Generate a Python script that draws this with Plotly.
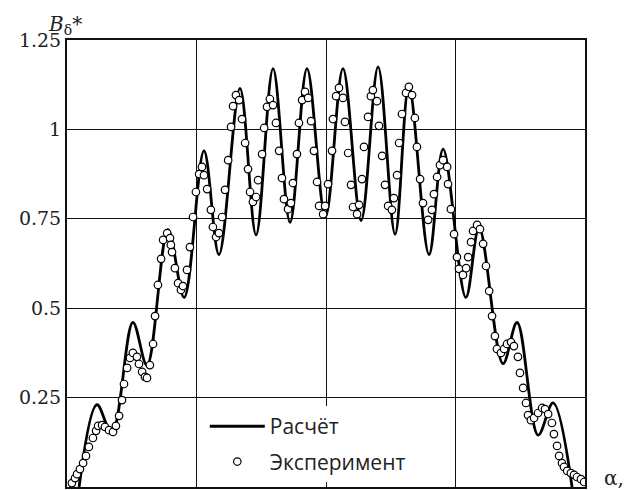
import plotly.graph_objects as go

# Calculated air-gap flux density (key points of the computed curve), angle in degrees
calc_alpha = [4.2, 10.4, 15.6, 22.9, 27.8, 35.1, 40.7, 47.6, 52.8, 60.1, 65.7, 71.6, 77.5,
              83.4, 89.8, 95.9, 102.2, 108.1, 114.0, 118.8, 125.8, 130.7, 138.6, 143.2,
              151.5, 156.4, 163.7, 168.9, 175.5]
calc_b = [0.0, 0.23, 0.15, 0.46, 0.34, 0.72, 0.53, 0.94, 0.65, 1.115, 0.705, 1.17, 0.74,
          1.17, 0.755, 1.17, 0.745, 1.175, 0.707, 1.12, 0.65, 0.945, 0.53, 0.725,
          0.345, 0.46, 0.145, 0.235, 0.0]

# Measured values
exp_alpha = [1.7, 2.8, 3.5, 4.5, 5.6, 6.6, 7.6, 9.0, 10.1, 10.8, 12.2, 13.2, 14.6, 16.0,
             17.0, 18.1, 19.1, 19.8, 20.9, 21.9, 22.9, 24.3, 25.0, 26.1, 27.1, 27.8, 28.8,
             29.9, 30.6, 31.6, 32.7, 33.4, 34.8, 35.8, 36.1, 36.5, 37.5, 38.6, 39.6, 40.3,
             41.7, 42.7, 43.8, 44.8, 45.9, 46.9, 47.6, 48.7, 50.0, 50.7, 51.8, 52.8, 53.9,
             54.9, 56.0, 57.0, 57.7, 58.7, 59.8, 60.8, 61.9, 62.9, 63.6, 64.6, 65.7, 66.4,
             67.8, 68.5, 69.5, 70.5, 71.6, 72.6, 73.7, 74.7, 75.4, 76.8, 77.8, 78.5, 79.9,
             80.6, 81.7, 82.7, 83.8, 84.8, 85.8, 86.9, 87.6, 89.0, 89.7, 90.7, 92.1, 92.4,
             93.5, 94.5, 95.9, 96.6, 97.7, 98.7, 99.4, 100.8, 101.5, 102.5, 103.2, 104.6,
             105.6, 106.3, 107.7, 108.4, 109.5, 110.5, 111.6, 112.9, 113.6, 114.7, 115.4,
             116.4, 117.8, 118.8, 119.9, 120.9, 121.6, 122.7, 123.7, 125.5, 126.8, 127.5,
             128.6, 129.6, 130.7, 132.1, 132.4, 133.4, 134.5, 135.5, 136.2, 137.6, 138.7,
             139.4, 140.4, 141.1, 142.5, 143.5, 144.6, 145.6, 146.7, 147.7, 148.7, 149.4,
             150.8, 151.9, 152.9, 154.3, 155.3, 156.7, 157.4, 158.5, 159.5, 160.2, 161.2,
             162.3, 163.7, 165.1, 166.1, 167.2, 168.5, 169.2, 170.3, 171.0, 172.0, 172.7,
             173.8, 175.1, 176.2, 177.2, 178.6, 179.7]
exp_b = [0.011, 0.025, 0.036, 0.050, 0.067, 0.087, 0.112, 0.137, 0.157, 0.171, 0.173, 0.168,
         0.159, 0.154, 0.171, 0.199, 0.243, 0.288, 0.333, 0.361, 0.375, 0.364, 0.344, 0.322,
         0.308, 0.305, 0.341, 0.400, 0.478, 0.565, 0.638, 0.691, 0.710, 0.696, 0.677, 0.657,
         0.612, 0.570, 0.551, 0.562, 0.607, 0.671, 0.755, 0.825, 0.875, 0.895, 0.872, 0.833,
         0.775, 0.727, 0.699, 0.710, 0.755, 0.831, 0.914, 1.007, 1.065, 1.096, 1.082, 1.029,
         0.962, 0.889, 0.825, 0.797, 0.811, 0.858, 0.931, 1.004, 1.063, 1.085, 1.068, 1.018,
         0.940, 0.864, 0.805, 0.777, 0.794, 0.850, 0.931, 1.018, 1.082, 1.105, 1.088, 1.023,
         0.940, 0.853, 0.786, 0.763, 0.786, 0.847, 0.940, 1.029, 1.093, 1.116, 1.088, 1.021,
         0.934, 0.845, 0.783, 0.763, 0.789, 0.861, 0.951, 1.035, 1.093, 1.110, 1.079, 1.010,
         0.926, 0.845, 0.786, 0.775, 0.808, 0.872, 0.962, 1.043, 1.102, 1.119, 1.096, 1.032,
         0.951, 0.861, 0.794, 0.747, 0.775, 0.819, 0.867, 0.900, 0.914, 0.895, 0.847, 0.777,
         0.707, 0.643, 0.610, 0.593, 0.612, 0.643, 0.685, 0.716, 0.733, 0.721, 0.680, 0.618,
         0.548, 0.478, 0.422, 0.386, 0.375, 0.386, 0.400, 0.405, 0.394, 0.364, 0.319, 0.277,
         0.235, 0.201, 0.187, 0.193, 0.207, 0.221, 0.218, 0.204, 0.179, 0.148, 0.115, 0.087,
         0.067, 0.056, 0.045, 0.039, 0.034, 0.028, 0.022, 0.014]

y_ticks = [0.25, 0.5, 0.75, 1.0, 1.25]
y_tick_text = ["0.25", "0.5", "0.75", "1", "1.25"]

fig = go.Figure()
fig.add_trace(go.Scatter(
    x=calc_alpha, y=calc_b, mode="lines", name="Расчёт",
    line=dict(color="black", width=2.8, shape="spline", smoothing=1.0),
    legendgroup="a",
))
fig.add_trace(go.Scatter(
    x=exp_alpha, y=exp_b, mode="markers", name="Эксперимент",
    marker=dict(symbol="circle", size=7.5, color="white",
                line=dict(color="black", width=1.2)),
    legendgroup="b",
))

fig.update_layout(
    width=634, height=490,
    margin=dict(l=67, r=49, t=40, b=3),
    paper_bgcolor="white", plot_bgcolor="white",
    showlegend=True,
    legend=dict(
        x=0.266, y=0.011, xanchor="left", yanchor="bottom",
        bgcolor="white", borderwidth=0,
        font=dict(family="Open Sans", size=21, color="#222"),
        itemwidth=55, traceorder="grouped", tracegroupgap=5,
    ),
    xaxis=dict(
        range=[0, 180], tick0=0, dtick=45, showticklabels=False, ticks="",
        showgrid=True, gridcolor="#111", gridwidth=1.2, zeroline=False,
        showline=True, linecolor="#111", linewidth=2, mirror=True,
    ),
    yaxis=dict(
        range=[0, 1.25], tickvals=y_ticks, ticktext=y_tick_text, ticks="",
        showgrid=True, gridcolor="#111", gridwidth=1.2, zeroline=False,
        showline=True, linecolor="#111", linewidth=2, mirror=True,
        tickfont=dict(family="DejaVu Serif", size=19, color="#222"),
    ),
    annotations=[
        dict(text="<i>B</i><sub>δ</sub>*", xref="paper", yref="paper",
             x=-0.04, y=1.0, xanchor="left", yanchor="bottom", showarrow=False,
             font=dict(family="DejaVu Serif", size=20, color="#222")),
        dict(text="α,", xref="paper", yref="paper",
             x=1.033, y=0.02, xanchor="left", yanchor="middle", showarrow=False,
             font=dict(family="DejaVu Serif", size=20, color="#222")),
    ],
)

fig.write_html("out.html")
